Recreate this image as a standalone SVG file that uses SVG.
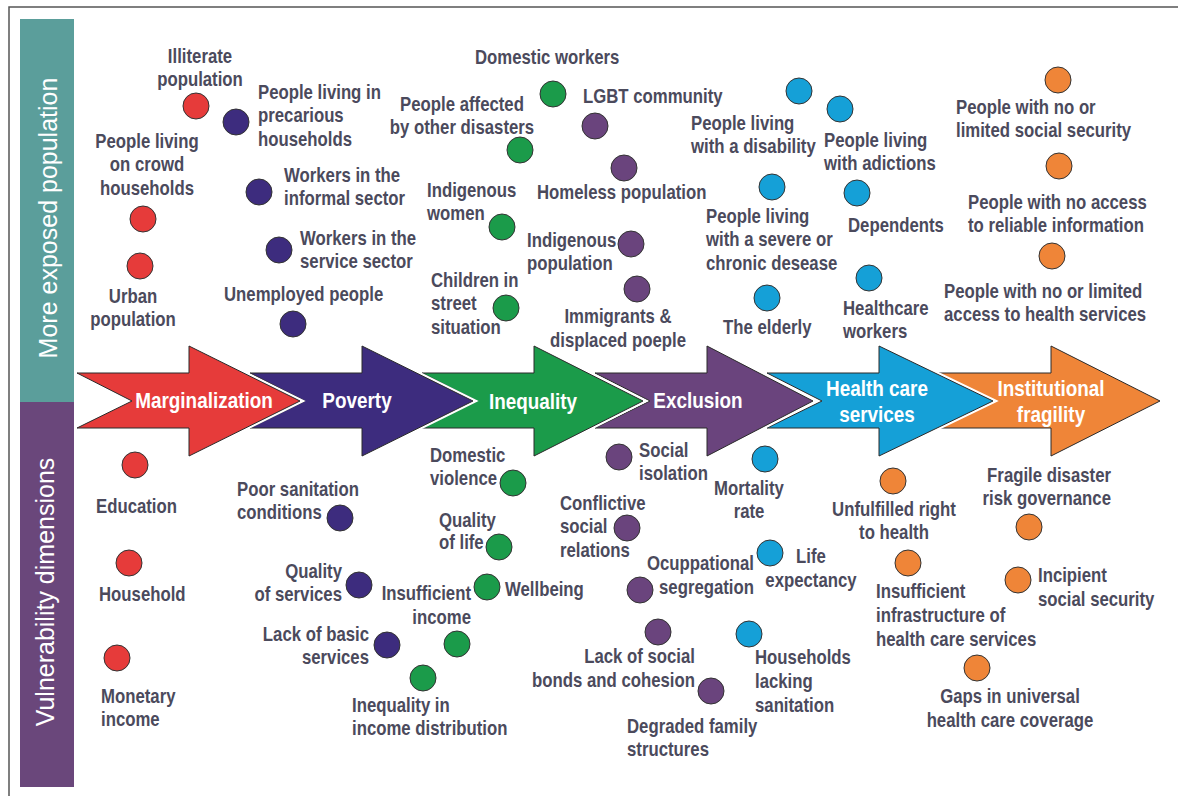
<svg xmlns="http://www.w3.org/2000/svg" width="1178" height="796" viewBox="0 0 1178 796">
<style>
.t{font-family:"Liberation Sans",Arial,sans-serif;font-weight:bold;font-size:19.5px;fill:#4b4a5c}
.a{font-family:"Liberation Sans",Arial,sans-serif;font-weight:bold;font-size:22px;fill:#fff;text-anchor:middle}
.s{font-family:"Liberation Sans",Arial,sans-serif;font-size:25px;fill:#fff;text-anchor:middle}
.m{text-anchor:middle}.e{text-anchor:end}
circle{stroke:#333;stroke-width:1}
.red{fill:#e63b3a}.nav{fill:#3d2c7e}.grn{fill:#1b9b4a}.pur{fill:#6a447d}.blu{fill:#15a0d7}.org{fill:#ef8538}
.halo{fill:#fff;stroke:#fff;stroke-width:5;stroke-linejoin:miter}
.arw{stroke:#2a2a2a;stroke-width:1}
</style>
<rect width="1178" height="796" fill="#fff"/>
<path d="M9,796 V7 H1178" fill="none" stroke="#555" stroke-width="1.5"/>
<g id="side-bars">
<rect x="20" y="19" width="54" height="383" fill="#5b9e9b"/>
<rect x="20" y="402" width="54" height="385" fill="#6a477b"/>
<text class="s" transform="translate(57,218) rotate(-90)">More exposed population</text>
<text class="s" transform="translate(54,592) rotate(-90)">Vulnerability dimensions</text>
</g>
<g id="arrows">
<g id="arrow-fragility">
<polygon class="halo" points="939,373 1051,373 1051,346 1160,401 1051,456 1051,428 939,428 994,401"/>
<polygon class="arw org" points="939,373 1051,373 1051,346 1160,401 1051,456 1051,428 939,428 994,401"/>
<text class="a" transform="translate(1051,396) scale(0.86,1)"><tspan x="0">Institutional</tspan><tspan x="0" dy="26">fragility</tspan></text>
</g>
<g id="arrow-health">
<polygon class="halo" points="767,373 879,373 879,346 993,401 879,456 879,428 767,428 822,401"/>
<polygon class="arw blu" points="767,373 879,373 879,346 993,401 879,456 879,428 767,428 822,401"/>
<text class="a" transform="translate(877,396) scale(0.86,1)"><tspan x="0">Health care</tspan><tspan x="0" dy="26">services</tspan></text>
</g>
<g id="arrow-exclusion">
<polygon class="halo" points="595,373 707,373 707,346 813,401 707,456 707,428 595,428 650,401"/>
<polygon class="arw pur" points="595,373 707,373 707,346 813,401 707,456 707,428 595,428 650,401"/>
<text class="a" transform="translate(698,408) scale(0.86,1)">Exclusion</text>
</g>
<g id="arrow-inequality">
<polygon class="halo" points="422,373 534,373 534,346 643,401 534,456 534,428 422,428 477,401"/>
<polygon class="arw grn" points="422,373 534,373 534,346 643,401 534,456 534,428 422,428 477,401"/>
<text class="a" transform="translate(533,409) scale(0.86,1)">Inequality</text>
</g>
<g id="arrow-poverty">
<polygon class="halo" points="250,373 362,373 362,346 473,401 362,456 362,428 250,428 305,401"/>
<polygon class="arw nav" points="250,373 362,373 362,346 473,401 362,456 362,428 250,428 305,401"/>
<text class="a" transform="translate(357,408) scale(0.86,1)">Poverty</text>
</g>
<g id="arrow-marginalization">
<polygon class="halo" points="77,373 189,373 189,346 300,401 189,456 189,428 77,428 132,401"/>
<polygon class="arw red" points="77,373 189,373 189,346 300,401 189,456 189,428 77,428 132,401"/>
<text class="a" transform="translate(204,408) scale(0.86,1)">Marginalization</text>
</g>
</g>
<g id="connectors"></g>
<g id="n1"><circle class="red" cx="196" cy="106" r="13"/><text class="t m" transform="translate(200,63) scale(0.86,1)"><tspan x="0">Illiterate</tspan><tspan x="0" dy="23.5">population</tspan></text></g>
<g id="n2"><circle class="red" cx="143" cy="219" r="13"/><text class="t m" transform="translate(147,148) scale(0.86,1)"><tspan x="0">People living</tspan><tspan x="0" dy="23.5">on crowd</tspan><tspan x="0" dy="23.5">households</tspan></text></g>
<g id="n3"><circle class="red" cx="140" cy="266" r="13"/><text class="t m" transform="translate(133,303) scale(0.86,1)"><tspan x="0">Urban</tspan><tspan x="0" dy="23.5">population</tspan></text></g>
<g id="n4"><circle class="nav" cx="236" cy="122" r="13"/><text class="t" transform="translate(258,99) scale(0.86,1)"><tspan x="0">People living in</tspan><tspan x="0" dy="23.5">precarious</tspan><tspan x="0" dy="23.5">households</tspan></text></g>
<g id="n5"><circle class="nav" cx="259" cy="192" r="13"/><text class="t" transform="translate(284,182) scale(0.86,1)"><tspan x="0">Workers in the</tspan><tspan x="0" dy="23.5">informal sector</tspan></text></g>
<g id="n6"><circle class="nav" cx="279" cy="250" r="13"/><text class="t" transform="translate(300,245) scale(0.86,1)"><tspan x="0">Workers in the</tspan><tspan x="0" dy="23.5">service sector</tspan></text></g>
<g id="n7"><circle class="nav" cx="293" cy="324" r="13"/><text class="t" transform="translate(224,301) scale(0.86,1)">Unemployed people</text></g>
<g id="n8"><circle class="grn" cx="553" cy="94" r="13"/><text class="t" transform="translate(475,64) scale(0.86,1)">Domestic workers</text></g>
<g id="n9"><circle class="grn" cx="520" cy="150" r="13"/><text class="t m" transform="translate(462,111) scale(0.86,1)"><tspan x="0">People affected</tspan><tspan x="0" dy="23.5">by other disasters</tspan></text></g>
<g id="n10"><circle class="grn" cx="502" cy="227" r="13"/><text class="t" transform="translate(427,197) scale(0.86,1)"><tspan x="0">Indigenous</tspan><tspan x="0" dy="23.5">women</tspan></text></g>
<g id="n11"><circle class="grn" cx="506" cy="308" r="13"/><text class="t" transform="translate(431,287) scale(0.86,1)"><tspan x="0">Children in</tspan><tspan x="0" dy="23.5">street</tspan><tspan x="0" dy="23.5">situation</tspan></text></g>
<g id="n12"><circle class="pur" cx="595" cy="126" r="13"/><text class="t" transform="translate(583,103) scale(0.86,1)">LGBT community</text></g>
<g id="n13"><circle class="pur" cx="624" cy="168" r="13"/><text class="t" transform="translate(537,199) scale(0.86,1)">Homeless population</text></g>
<g id="n14"><circle class="pur" cx="631" cy="244" r="13"/><text class="t" transform="translate(527,247) scale(0.86,1)"><tspan x="0">Indigenous</tspan><tspan x="0" dy="23">population</tspan></text></g>
<g id="n15"><circle class="pur" cx="637" cy="289" r="13"/><text class="t m" transform="translate(618,323) scale(0.86,1)"><tspan x="0">Immigrants &amp;</tspan><tspan x="0" dy="24">displaced poeple</tspan></text></g>
<g id="n16"><circle class="blu" cx="799" cy="91" r="13"/><text class="t" transform="translate(691,130) scale(0.86,1)"><tspan x="0">People living</tspan><tspan x="0" dy="23.5">with a disability</tspan></text></g>
<g id="n17"><circle class="blu" cx="840" cy="109" r="13"/><text class="t" transform="translate(824,147) scale(0.86,1)"><tspan x="0">People living</tspan><tspan x="0" dy="23.5">with adictions</tspan></text></g>
<g id="n18"><circle class="blu" cx="772" cy="187" r="13"/><text class="t" transform="translate(706,223) scale(0.86,1)"><tspan x="0">People living</tspan><tspan x="0" dy="23.5">with a severe or</tspan><tspan x="0" dy="23.5">chronic desease</tspan></text></g>
<g id="n19"><circle class="blu" cx="857" cy="193" r="13"/><text class="t" transform="translate(848,232) scale(0.86,1)">Dependents</text></g>
<g id="n20"><circle class="blu" cx="767" cy="298" r="13"/><text class="t" transform="translate(723,334) scale(0.86,1)">The elderly</text></g>
<g id="n21"><circle class="blu" cx="869" cy="278" r="13"/><text class="t" transform="translate(843,315) scale(0.86,1)"><tspan x="0">Healthcare</tspan><tspan x="0" dy="23.5">workers</tspan></text></g>
<g id="n22"><circle class="org" cx="1058" cy="80" r="13"/><text class="t" transform="translate(956,114) scale(0.86,1)"><tspan x="0">People with no or</tspan><tspan x="0" dy="23.5">limited social security</tspan></text></g>
<g id="n23"><circle class="org" cx="1059" cy="166" r="13"/><text class="t" transform="translate(968,209) scale(0.86,1)"><tspan x="0">People with no access</tspan><tspan x="0" dy="23.5">to reliable information</tspan></text></g>
<g id="n24"><circle class="org" cx="1052" cy="256" r="13"/><text class="t" transform="translate(944,298) scale(0.86,1)"><tspan x="0">People with no or limited</tspan><tspan x="0" dy="23.5">access to health services</tspan></text></g>
<g id="n25"><circle class="red" cx="135" cy="465" r="13"/><text class="t" transform="translate(96,513) scale(0.86,1)">Education</text></g>
<g id="n26"><circle class="red" cx="129" cy="563" r="13"/><text class="t" transform="translate(99,601) scale(0.86,1)">Household</text></g>
<g id="n27"><circle class="red" cx="117" cy="658" r="13"/><text class="t" transform="translate(101,703) scale(0.86,1)"><tspan x="0">Monetary</tspan><tspan x="0" dy="23.5">income</tspan></text></g>
<g id="n28"><circle class="nav" cx="340" cy="518" r="13"/><text class="t" transform="translate(237,496) scale(0.86,1)"><tspan x="0">Poor sanitation</tspan><tspan x="0" dy="23.5">conditions</tspan></text></g>
<g id="n29"><circle class="nav" cx="359" cy="585" r="13"/><text class="t e" transform="translate(342,578) scale(0.86,1)"><tspan x="0">Quality</tspan><tspan x="0" dy="23.5">of services</tspan></text></g>
<g id="n30"><circle class="nav" cx="387" cy="645" r="13"/><text class="t e" transform="translate(369,641) scale(0.86,1)"><tspan x="0">Lack of basic</tspan><tspan x="0" dy="23.5">services</tspan></text></g>
<g id="n31"><circle class="grn" cx="513" cy="483" r="13"/><text class="t" transform="translate(430,462) scale(0.86,1)"><tspan x="0">Domestic</tspan><tspan x="0" dy="23">violence</tspan></text></g>
<g id="n32"><circle class="grn" cx="499" cy="547" r="13"/><text class="t" transform="translate(439,527) scale(0.86,1)"><tspan x="0">Quality</tspan><tspan x="0" dy="22.5">of life</tspan></text></g>
<g id="n33"><circle class="grn" cx="487" cy="587" r="13"/><text class="t" transform="translate(505,596) scale(0.86,1)">Wellbeing</text></g>
<g id="n34"><circle class="grn" cx="457" cy="644" r="13"/><text class="t e" transform="translate(471,600) scale(0.86,1)"><tspan x="0">Insufficient</tspan><tspan x="0" dy="24">income</tspan></text></g>
<g id="n35"><circle class="grn" cx="423" cy="678" r="13"/><text class="t" transform="translate(352,712) scale(0.86,1)"><tspan x="0">Inequality in</tspan><tspan x="0" dy="23.5">income distribution</tspan></text></g>
<g id="n36"><circle class="pur" cx="619" cy="457" r="13"/><text class="t" transform="translate(639,457) scale(0.86,1)"><tspan x="0">Social</tspan><tspan x="0" dy="23.5">isolation</tspan></text></g>
<g id="n37"><circle class="pur" cx="627" cy="528" r="13"/><text class="t" transform="translate(560,510) scale(0.86,1)"><tspan x="0">Conflictive</tspan><tspan x="0" dy="23.5">social</tspan><tspan x="0" dy="23.5">relations</tspan></text></g>
<g id="n38"><circle class="pur" cx="640" cy="590" r="13"/><text class="t e" transform="translate(754,570) scale(0.86,1)"><tspan x="0">Ocuppational</tspan><tspan x="0" dy="24">segregation</tspan></text></g>
<g id="n39"><circle class="pur" cx="658" cy="632" r="13"/><text class="t e" transform="translate(695,663) scale(0.86,1)"><tspan x="0">Lack of social</tspan><tspan x="0" dy="24">bonds and cohesion</tspan></text></g>
<g id="n40"><circle class="pur" cx="711" cy="691" r="13"/><text class="t" transform="translate(627,733) scale(0.86,1)"><tspan x="0">Degraded family</tspan><tspan x="0" dy="23.5">structures</tspan></text></g>
<g id="n41"><circle class="blu" cx="765" cy="459" r="13"/><text class="t m" transform="translate(749,495) scale(0.86,1)"><tspan x="0">Mortality</tspan><tspan x="0" dy="23.5">rate</tspan></text></g>
<g id="n42"><circle class="blu" cx="770" cy="553" r="13"/><text class="t m" transform="translate(811,563) scale(0.86,1)"><tspan x="0">Life</tspan><tspan x="0" dy="24">expectancy</tspan></text></g>
<g id="n43"><circle class="blu" cx="749" cy="634" r="13"/><text class="t" transform="translate(755,664) scale(0.86,1)"><tspan x="0">Households</tspan><tspan x="0" dy="24">lacking</tspan><tspan x="0" dy="24">sanitation</tspan></text></g>
<g id="n44"><circle class="org" cx="893" cy="481" r="13"/><text class="t m" transform="translate(894,516) scale(0.86,1)"><tspan x="0">Unfulfilled right</tspan><tspan x="0" dy="23.5">to health</tspan></text></g>
<g id="n45"><circle class="org" cx="908" cy="563" r="13"/><text class="t" transform="translate(876,598) scale(0.86,1)"><tspan x="0">Insufficient</tspan><tspan x="0" dy="24">infrastructure of</tspan><tspan x="0" dy="24">health care services</tspan></text></g>
<g id="n46"><circle class="org" cx="1029" cy="527" r="13"/><text class="t e" transform="translate(1111,482) scale(0.86,1)"><tspan x="0">Fragile disaster</tspan><tspan x="0" dy="23.5">risk governance</tspan></text></g>
<g id="n47"><circle class="org" cx="1018" cy="580" r="13"/><text class="t" transform="translate(1038,582) scale(0.86,1)"><tspan x="0">Incipient</tspan><tspan x="0" dy="24">social security</tspan></text></g>
<g id="n48"><circle class="org" cx="977" cy="668" r="13"/><text class="t m" transform="translate(1010,703) scale(0.86,1)"><tspan x="0">Gaps in universal</tspan><tspan x="0" dy="24">health care coverage</tspan></text></g>
</svg>
